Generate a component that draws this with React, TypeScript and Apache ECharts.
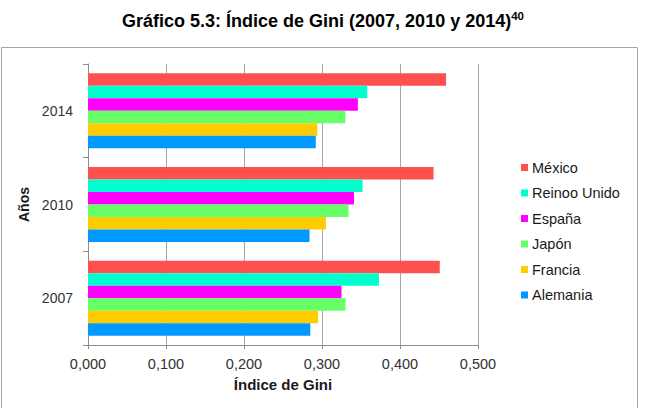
import React, { useEffect, useRef } from "react";
import * as echarts from "echarts";

const years = ["2007", "2010", "2014"];
const countries = ["México", "Reinoo Unido", "España", "Japón", "Francia", "Alemania"];
const colors: Record<string, string> = {
  "México": "#FF5050",
  "Reinoo Unido": "#00FFCC",
  "España": "#FF00FF",
  "Japón": "#66FF66",
  "Francia": "#FFCC00",
  "Alemania": "#0099FF",
};
const mexico = [0.451, 0.443, 0.459];
const reinoUnido = [0.373, 0.352, 0.358];
const espana = [0.325, 0.341, 0.346];
const japon = [0.330, 0.334, 0.330];
const francia = [0.295, 0.305, 0.294];
const alemania = [0.285, 0.284, 0.292];
const values = [mexico, reinoUnido, espana, japon, francia, alemania];
const xTicks = { min: 0, max: 0.5, interval: 0.1 };

export default function App() {
  const ref = useRef<HTMLDivElement>(null);
  useEffect(() => {
    document.body.style.margin = "0";
    const chart = echarts.init(ref.current!, null, { renderer: "svg" });
    const font = "'Liberation Sans', Arial, sans-serif";
    chart.setOption({
      animation: false,
      textStyle: { fontFamily: font },
      title: {
        text: "Gráfico 5.3: Índice de Gini (2007, 2010 y 2014){sup|40}",
        left: "center",
        top: 5,
        textStyle: {
          fontFamily: font,
          fontSize: 18,
          fontWeight: "bold",
          color: "#000",
          rich: {
            sup: { fontSize: 11.5, fontWeight: "bold", verticalAlign: "top", padding: [0, 0, 9, 0], fontFamily: font, color: "#000" },
          },
        },
      },
      graphic: [
        {
          type: "rect",
          shape: { x: 1.5, y: 47.5, width: 636, height: 400 },
          style: { fill: "none", stroke: "#a6a6a6", lineWidth: 1 },
          silent: true,
        },
      ],
      legend: {
        orient: "vertical",
        left: 516,
        top: 155,
        itemWidth: 7,
        itemHeight: 7,
        itemGap: 10.5,
        icon: "rect",
        data: countries,
        textStyle: { fontFamily: font, fontSize: 14.5, color: "#1a1a1a", padding: [0, 0, 0, -1] },
      },
      grid: { left: 88, right: 168, top: 64, bottom: 63, containLabel: false },
      xAxis: {
        type: "value",
        min: xTicks.min,
        max: xTicks.max,
        interval: xTicks.interval,
        name: "Índice de Gini",
        nameLocation: "middle",
        nameGap: 32,
        nameTextStyle: { fontFamily: font, fontSize: 15, fontWeight: "bold", color: "#1a1a1a" },
        axisLine: { show: true, lineStyle: { color: "#8c8c8c" } },
        axisTick: { show: true, length: 4, lineStyle: { color: "#8c8c8c" } },
        axisLabel: {
          fontFamily: font,
          fontSize: 14.5,
          color: "#333",
          margin: 11,
          formatter: (v: number) => v.toFixed(3).replace(".", ","),
        },
        splitLine: { show: true, lineStyle: { color: "#a6a6a6", width: 1 } },
      },
      yAxis: {
        type: "category",
        data: years,
        name: "Años",
        nameLocation: "middle",
        nameGap: 50,
        nameRotate: 90,
        nameTextStyle: { fontFamily: font, fontSize: 14, fontWeight: "bold", color: "#1a1a1a" },
        axisLine: { show: true, lineStyle: { color: "#8c8c8c" } },
        axisTick: { show: true, length: 5, lineStyle: { color: "#8c8c8c" } },
        axisLabel: { fontFamily: font, fontSize: 14, color: "#333", margin: 15 },
      },
      series: countries.map((c, i) => ({
        name: c,
        type: "bar",
        data: values[i],
        barGap: "0%",
        barCategoryGap: "20%",
        itemStyle: { color: colors[c] },
      })),
    });
    return () => chart.dispose();
  }, []);
  return <div ref={ref} style={{ width: 646, height: 408 }} />;
}
